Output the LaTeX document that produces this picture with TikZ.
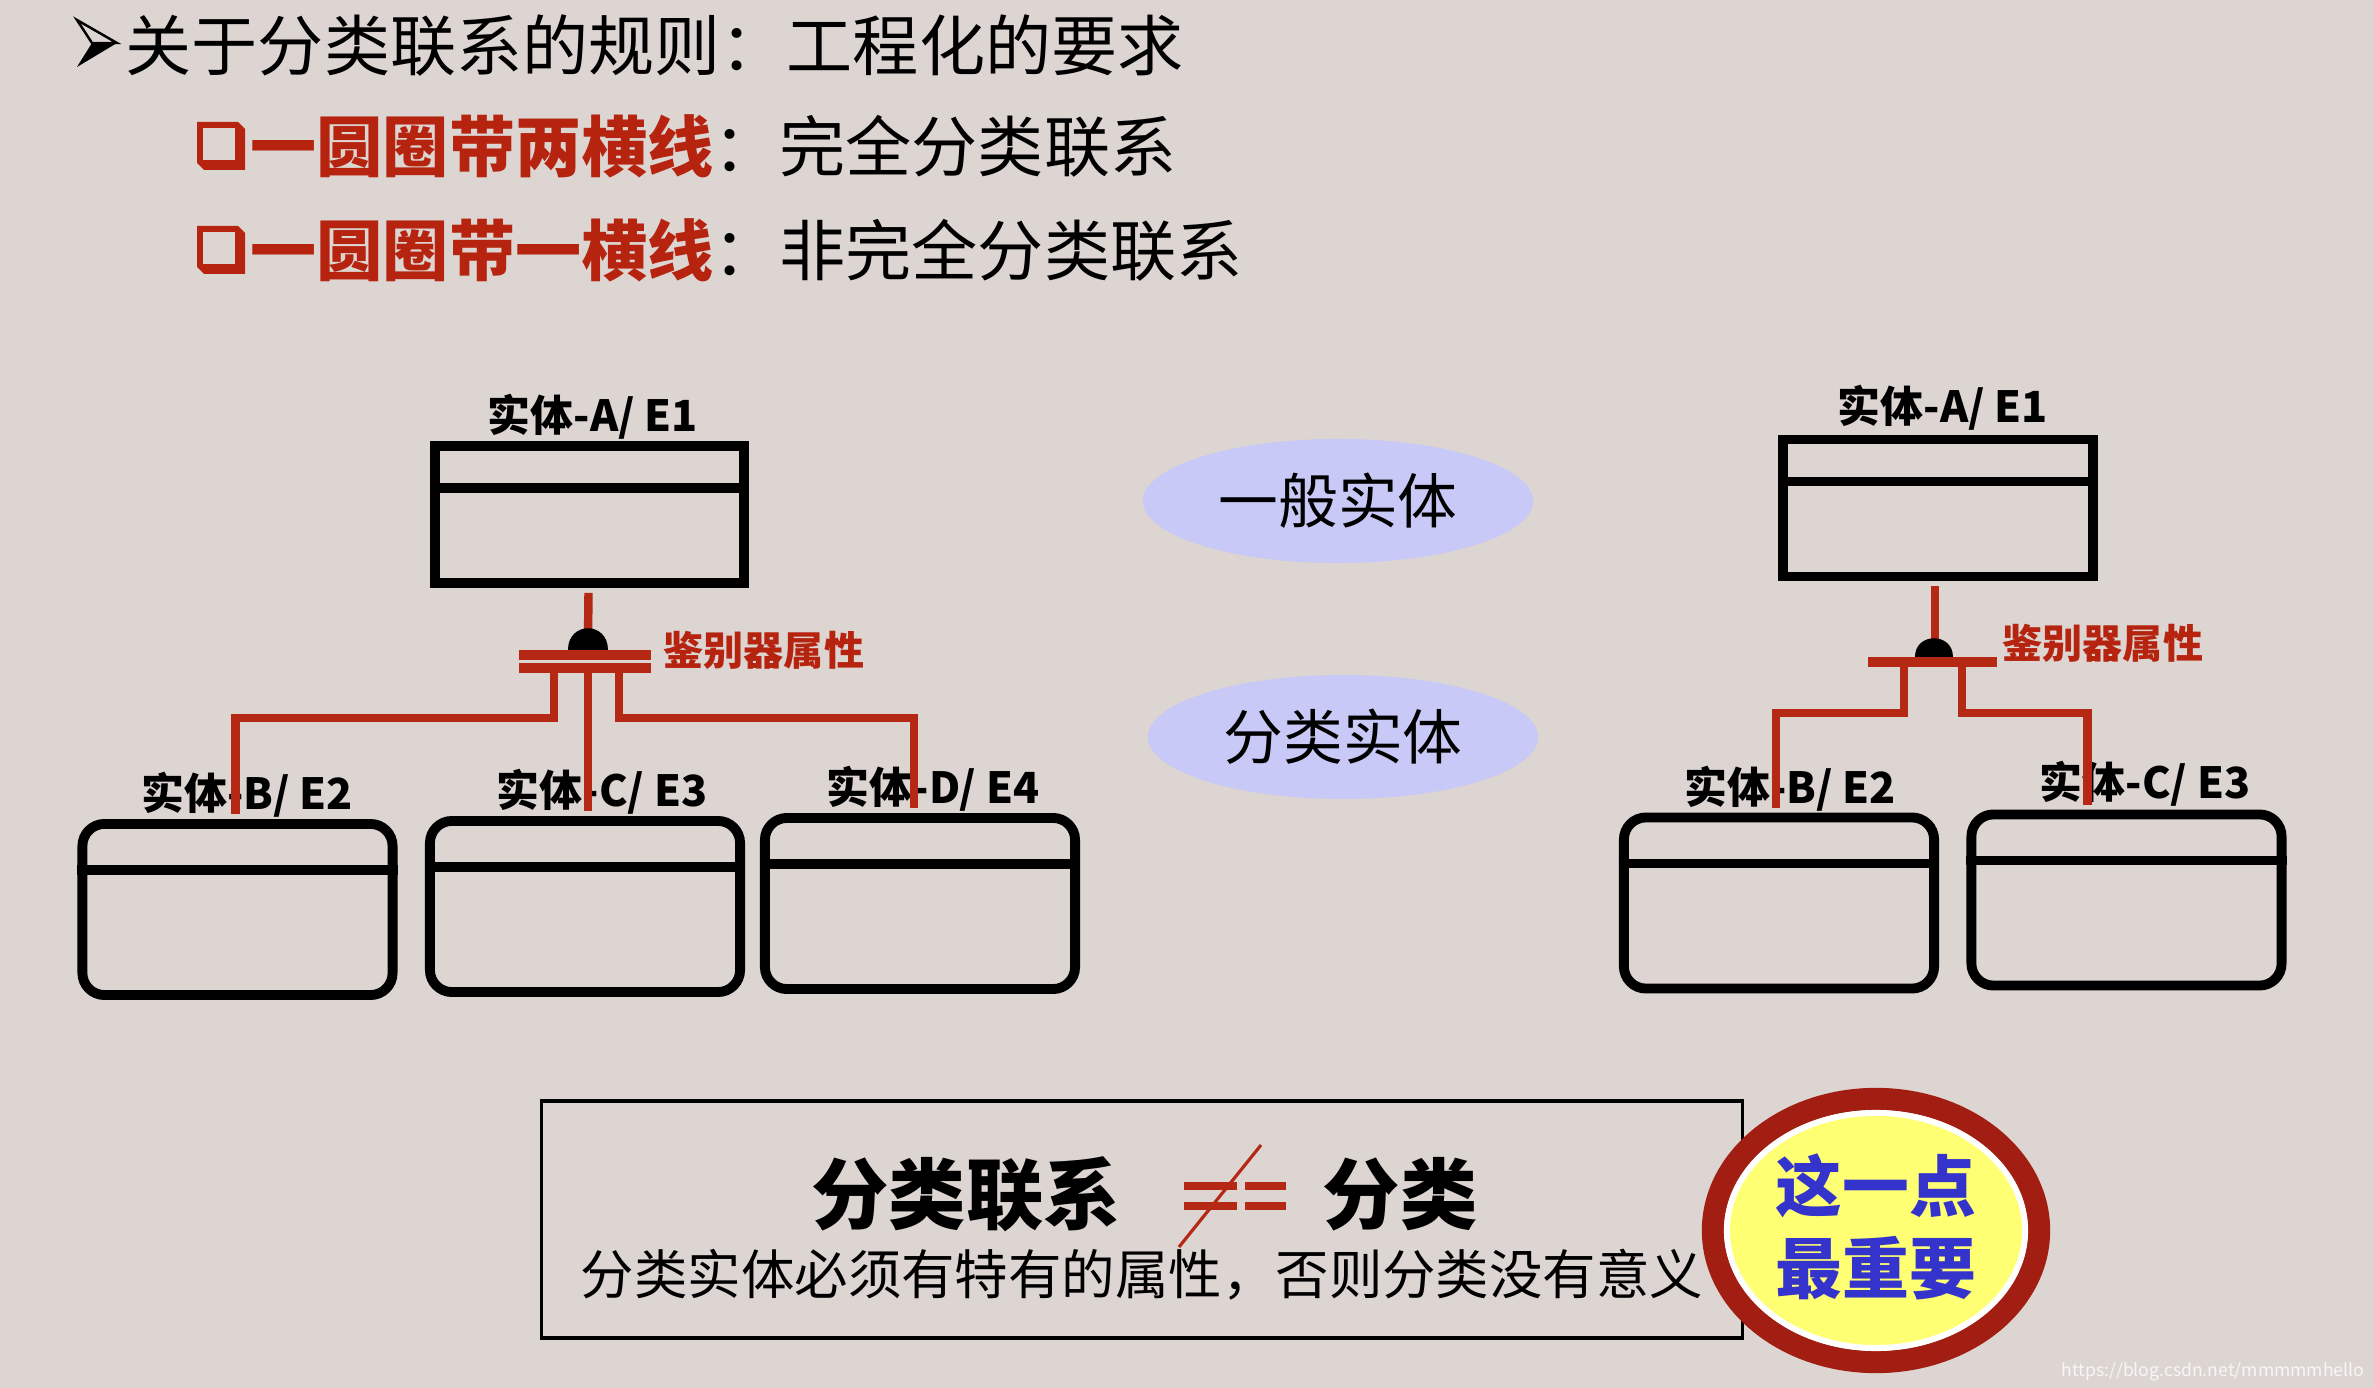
\documentclass[tikz,border=0pt]{standalone}
\usepackage{fontspec}
\setmainfont{Noto Sans CJK SC}
\usetikzlibrary{shapes.geometric,calc}
\definecolor{bg}{RGB}{220,213,210}
\definecolor{hred}{RGB}{182,36,16}
\definecolor{lred}{RGB}{180,40,20}
\definecolor{ringred}{RGB}{163,30,18}
\definecolor{lav}{RGB}{200,201,246}
\definecolor{yel}{RGB}{255,255,115}
\definecolor{blu}{RGB}{52,52,205}
\begin{document}
\begin{tikzpicture}[x=0.01cm,y=-0.01cm,
  entbox/.style={draw=black,line width=2.8pt,minimum width=3.09cm,minimum height=1.37cm,inner sep=0pt},
  subbox/.style={draw=black,line width=2.8pt,rounded corners=0.22cm,minimum width=3.1cm,minimum height=1.71cm,inner sep=0pt},
  divider/.style={draw=black,line width=2.6pt},
  lbl/.style={font=\bfseries\fontsize{12.2}{14}\selectfont,inner sep=0pt},
  link/.style={draw=lred,line width=2.4pt,line join=miter},
  bar/.style={draw=lred,line width=2.8pt},
  dome/.style={fill=black},
  disc/.style={font=\bfseries\fontsize{11.4}{13}\selectfont,text=hred,inner sep=0pt},
  oval/.style={ellipse,fill=lav,inner sep=0pt,minimum width=3.9cm,minimum height=1.24cm,font=\fontsize{17}{20}\selectfont},
  headline/.style={anchor=west,inner sep=0pt,font=\fontsize{18.8}{22}\selectfont},
]
\useasboundingbox (0,0) rectangle (2374,1388);
\fill[bg] (0,0) rectangle (2374,1388);

% ---------- headings ----------
\draw[black,line width=0.7pt,line join=miter] (77,20) -- (117,43) -- (92,43) -- cycle;
\fill[black] (77,67) -- (117,43) -- (92,43) -- cycle;
\node[headline] (h1) at (125,46) {关于分类联系的规则：工程化的要求};

\foreach \yy in {122,226}{
  \fill[hred] (197,\yy) -- (238,\yy) -- (245,\yy+7) -- (245,\yy+48) -- (204,\yy+48) -- (197,\yy+41) -- cycle;
  \fill[bg] (203,\yy+6) rectangle (235,\yy+38);
}
\node[headline] (h2) at (250,146) {{\bfseries\color{hred}一圆圈带两横线}：完全分类联系};
\node[headline] (h3) at (250,250) {{\bfseries\color{hred}一圆圈带一横线}：非完全分类联系};

% ---------- middle ovals ----------
\node[oval] (gen) at (1338,501) {一般实体};
\node[oval] (cls) at (1343,737) {分类实体};

% ---------- left diagram ----------
\node[entbox] (A) at (589.5,514.5) {};
\draw[divider] ($(A.north west)+(0,47)$) -- ($(A.north east)+(0,47)$);
\node[subbox] (B) at (237.5,909.5) {};
\draw[divider] ($(B.north west)+(0,51)$) -- ($(B.north east)+(0,51)$);
\node[subbox] (C) at (585,906.5) {};
\draw[divider] ($(C.north west)+(0,51)$) -- ($(C.north east)+(0,51)$);
\node[subbox] (D) at (920,903.5) {};
\draw[divider] ($(D.north west)+(0,51)$) -- ($(D.north east)+(0,51)$);

\node[lbl] (lA) at (593,417) {实体-A/ E1};
\node[lbl] (lB) at (247,795) {实体-B/ E2};
\node[lbl] (lC) at (602,792) {实体-C/ E3};
\node[lbl] (lD) at (933,789) {实体-D/ E4};
\node[disc,anchor=west] (dA) at (663,650) {鉴别器属性};

\draw[link] ($(A.south)+(-1,5)$) -- (588,640);
\coordinate (domeL) at (588,650);
\fill[dome] (568,650) .. controls (568,621) and (608,621) .. (608,650) -- cycle;
\draw[bar] (519,655) -- (651,655);
\draw[bar] (519,668) -- (651,668);
\draw[link] (554,670) -- (554,718) -| ($(B.north)+(-2,-5)$);
\draw[link] (588,670) -- ($(C.north)+(3,-5)$);
\draw[link] (619,670) -- (619,718) -| ($(D.north)+(-6,-5)$);

% ---------- right diagram ----------
\node[entbox] (A2) at (1938,508) {};
\draw[divider] ($(A2.north west)+(0,47)$) -- ($(A2.north east)+(0,47)$);
\node[subbox] (B2) at (1779,903) {};
\draw[divider] ($(B2.north west)+(0,51)$) -- ($(B2.north east)+(0,51)$);
\node[subbox] (C2) at (2126.5,900) {};
\draw[divider] ($(C2.north west)+(0,51)$) -- ($(C2.north east)+(0,51)$);

\node[lbl] (lA2) at (1943,408) {实体-A/ E1};
\node[lbl] (lB2) at (1790,789) {实体-B/ E2};
\node[lbl] (lC2) at (2145,784) {实体-C/ E3};
\node[disc,anchor=west] (dA2) at (2002,643) {鉴别器属性};

\draw[link] ($(A2.south)+(-3,5)$) -- (1935,645);
\fill[dome] (1915,657) .. controls (1915,632) and (1953,632) .. (1953,657) -- cycle;
\draw[bar] (1868,662) -- (1997,662);
\draw[link] (1904,667) -- (1904,713) -| ($(B2.north)+(-3,-5)$);
\draw[link] (1962,667) -- (1962,713) -| ($(C2.north)+(-39,-5)$);

% ---------- bottom statement ----------
\node[draw=black,line width=1.0pt,minimum width=12.0cm,minimum height=2.37cm,inner sep=0pt] (note) at (1142,1219.5) {};
\node[inner sep=0pt,font=\bfseries\fontsize{22}{26}\selectfont] (t1) at (966,1194) {分类联系};
\node[inner sep=0pt,font=\bfseries\fontsize{22}{26}\selectfont] (t2) at (1400,1194) {分类};
\draw[lred,line width=2pt] (1184,1186) -- (1237,1186);
\draw[lred,line width=2pt] (1184,1206) -- (1237,1206);
\draw[lred,line width=2pt] (1245,1186) -- (1286,1186);
\draw[lred,line width=2pt] (1245,1206) -- (1286,1206);
\draw[lred,line width=0.9pt] (1261,1145) -- (1179,1247);
\node[inner sep=0pt,font=\fontsize{15.2}{18}\selectfont] (t3) at (1142,1275) {分类实体必须有特有的属性，否则分类没有意义};

% ---------- badge ----------
\node[ellipse,draw=ringred,line width=6.3pt,minimum width=3.26cm,minimum height=2.63cm,inner sep=0pt] (ring) at (1876,1230.5) {};
\node[ellipse,draw=white,fill=yel,line width=1.7pt,minimum width=2.98cm,minimum height=2.35cm,inner sep=0pt] (core) at (1876,1230.5) {};
\node[inner sep=0pt,text=blu,font=\bfseries\fontsize{19}{22}\selectfont] (b1) at (1876,1186) {这一点};
\node[inner sep=0pt,text=blu,font=\bfseries\fontsize{19}{22}\selectfont] (b2) at (1876,1268) {最重要};

\node[anchor=east,inner sep=0pt,text=white,opacity=0.8,font=\fontsize{5}{6}\selectfont] (wm) at (2365,1372) {https://blog.csdn.net/mmmmmhello};
\end{tikzpicture}
\end{document}
